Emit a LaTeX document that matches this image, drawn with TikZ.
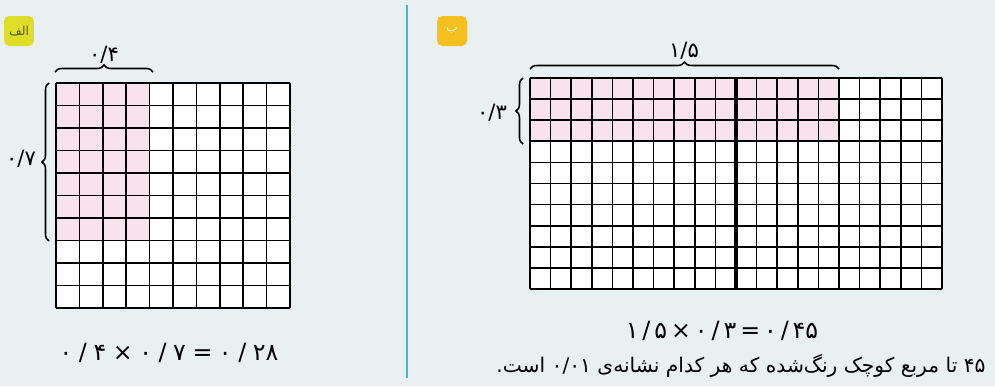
\documentclass[tikz,border=0pt]{standalone}
\usepackage{fontspec}
\usepackage{tikz}
\usetikzlibrary{decorations.pathreplacing}
\newfontfamily\farsifont[Script=Arabic]{DejaVu Sans}
\TeXXeTstate=1

\definecolor{paper}{RGB}{233,240,242}
\definecolor{pinkcell}{RGB}{248,226,235}
\definecolor{divider}{RGB}{70,185,205}
\definecolor{tabA}{RGB}{222,222,40}
\definecolor{tabB}{RGB}{245,192,30}

\tikzset{
    gridline/.style={line width=1pt},
    bracemark/.style={decorate,decoration={brace,amplitude=4pt},line width=0.9pt},
    tab/.style={rounded corners=3pt,minimum width=0.6cm,minimum height=0.6cm,inner sep=0pt,font=\farsifont\scriptsize},
    valuetag/.style={font=\farsifont\large},
    product/.style={font=\farsifont\fontsize{13.5}{16}\selectfont},
    notetext/.style={font=\farsifont\fontsize{11.5}{14}\selectfont}
}

\begin{document}
\begin{tikzpicture}[x=0.02cm,y=-0.02cm]

% Paper
\fill[paper] (0,0) rectangle (995,386);
\useasboundingbox (0,0) rectangle (995,386);

% Divider
\draw[divider,line width=1.2pt] (407,5) -- (407,378);

% Tabs
\node[tab,fill=tabA,text=black!60!tabA] (tabA) at (19,31) {\beginR الف\endR};
\node[tab,fill=tabB,text=white] (tabB) at (452,31) {\beginR ب\endR};

% Left grid 10x10
\fill[white] (56,83) rectangle (290,308);
\fill[pinkcell] (56,83) rectangle ++(4*23.4,7*22.5);
\foreach \i in {0,...,10} {
    \draw[gridline] (56+\i*23.4,83) -- ++(0,225);
    \draw[gridline] (56,83+\i*22.5) -- ++(234,0);
}

% Braces left
\draw[bracemark] (55,72) -- (153,72);
\node[valuetag] (widthA) at (104,55) {۰/۴};
\draw[bracemark] (49,241) -- (49,83);
\node[valuetag] (heightA) at (21,159) {۰/۷};

% Right grid 20x10
\fill[white] (530,78) rectangle (942,289);
\fill[pinkcell] (530,78) rectangle ++(15*20.6,3*21.1);
\foreach \i in {0,...,20}
    \draw[gridline] (530+\i*20.6,78) -- ++(0,211);
\foreach \j in {0,...,10}
    \draw[gridline] (530,78+\j*21.1) -- ++(412,0);
\draw[line width=1.8pt] (736,78) -- (736,289);

% Braces right
\draw[bracemark] (530,69) -- (839,69);
\node[valuetag] (widthB) at (684,51) {۱/۵};
\draw[bracemark] (523,144) -- (523,78);
\node[valuetag] (heightB) at (492,113) {۰/۳};

% Products
\node[product] (productA) at (169,353) {۰\;/\;۴\;×\;۰\;/\;۷\;=\;۰\;/\;۲۸};
\node[product] (productB) at (722,331) {۱\,/\,۵\,×\,۰\,/\,۳\,=\,۰\,/\,۴۵};
\node[notetext] (note) at (741,366) {\beginR ۴۵ تا مربع کوچک رنگ‌شده که هر کدام نشانه‌ی \beginL۰/۰۱\endL{} است.\endR};

\end{tikzpicture}
\end{document}
